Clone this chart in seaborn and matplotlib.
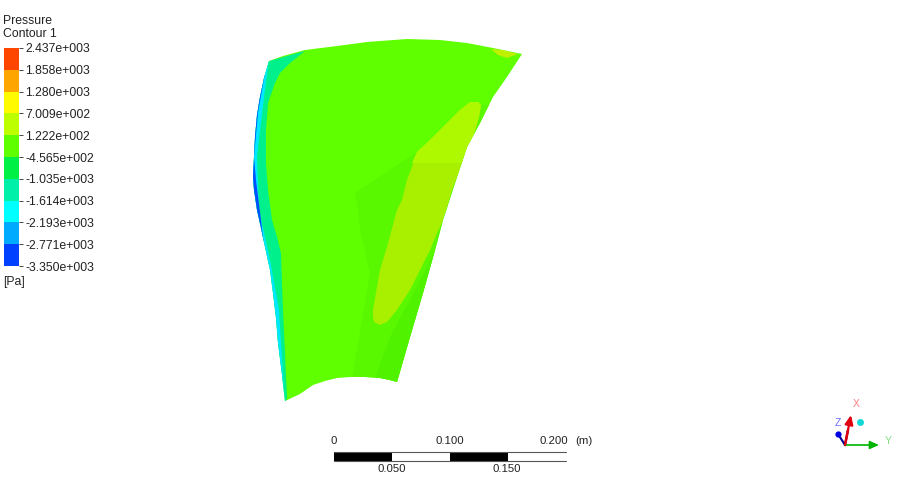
import numpy as np
import seaborn as sns
import matplotlib.pyplot as plt
from matplotlib.colors import ListedColormap

# legend levels, top to bottom
level_labels = ['2.437e+003', '1.858e+003', '1.280e+003', '7.009e+002', '1.222e+002',
                '-4.565e+002', '-1.035e+003', '-1.614e+003', '-2.193e+003', '-2.771e+003', '-3.350e+003']
band_colors = ['#ff4600', '#ffa500', '#fffa00', '#beff00', '#5fff00',
               '#00f046', '#00f0aa', '#00ffff', '#00aaff', '#0040ff']

# contour outlines
blade_x = [269, 283, 305, 337, 367, 407, 440, 467, 493, 522, 507, 493, 480, 467, 457, 443, 437, 423, 410, 397,
           390, 380, 365, 350, 337, 325, 313, 300, 285, 282, 278, 276, 273, 270, 265, 261, 257, 254, 253, 254, 255, 257, 260, 264]
blade_y = [61, 56, 50, 46, 42, 39, 40, 43, 48, 54, 77, 97, 123, 147, 177, 220, 243, 293, 337, 382,
           380, 378, 377, 377, 378, 381, 385, 394, 401, 375, 343, 318, 293, 270, 247, 228, 210, 190, 177, 157, 137, 115, 97, 78]
teal_x = [269, 305, 290, 280, 275, 268, 266, 266, 268, 272, 277, 281, 282, 283, 285, 287, 285, 250, 250]
teal_y = [61, 51, 63, 73, 83, 103, 130, 163, 190, 220, 237, 253, 283, 310, 353, 397, 405, 405, 55]
cyan_x = [269, 268, 262, 257, 259, 270, 279, 282, 285, 250, 250]
cyan_y = [61, 67, 113, 157, 210, 260, 310, 360, 405, 405, 55]
blue_x = [268, 266, 258, 254, 256, 260, 264, 248, 248]
blue_y = [60, 67, 113, 157, 180, 212, 245, 245, 60]
dark_x = [355, 417, 470, 481, 530, 530, 398, 352, 370, 360, 358]
dark_y = [193, 152, 115, 105, 105, 400, 400, 378, 273, 230, 210]
darker_x = [375, 390, 410, 440, 530, 530, 398]
darker_y = [378, 337, 300, 240, 130, 400, 400]
patch_x = [481, 479, 473, 463, 453, 443, 437, 430, 420, 410, 397, 387, 380, 374, 373, 373, 380, 387, 397, 402, 407, 412, 417, 432, 447, 460, 470, 478]
patch_y = [105, 117, 137, 163, 187, 220, 233, 250, 270, 290, 310, 322, 325, 322, 317, 310, 270, 247, 210, 200, 180, 167, 152, 138, 123, 110, 102, 102]
upper_x = [481, 479, 473, 463, 412, 417, 432, 447, 460, 470, 478]
upper_y = [105, 117, 137, 163, 163, 152, 138, 123, 110, 102, 102]
tip_x = [491, 503, 518, 507, 498]
tip_y = [49, 50, 54, 58, 55]

# scale bar, metres
bar_starts = [0.0, 0.05, 0.10, 0.15]
bar_top_labels = ['0', '0.100', '0.200']
bar_bottom_labels = ['0.050', '0.150']

sns.set_theme(style="white")
plt.rcParams['font.family'] = ['Liberation Sans', 'DejaVu Sans']
text_color = '#222222'

fig = plt.figure(figsize=(9, 4.91), dpi=100)
ax = fig.add_axes([0, 0, 1, 1])
ax.set_xlim(0, 900)
ax.set_ylim(491, 0)
ax.axis('off')

blade = ax.fill(blade_x, blade_y, color='#5fff00', lw=0)[0]
layers = [(dark_x, dark_y, '#5af800'), (darker_x, darker_y, '#50f200'),
          (teal_x, teal_y, '#00f08c'), (cyan_x, cyan_y, '#00e8ff'), (blue_x, blue_y, '#0050ff'),
          (patch_x, patch_y, '#a8f000'), (upper_x, upper_y, '#aef800'), (tip_x, tip_y, '#bef000')]
for xs, ys, col in layers:
    poly = ax.fill(xs, ys, color=col, lw=0)[0]
    poly.set_clip_path(blade.get_path(), blade.get_transform())

# legend
ax.text(3, 21, 'Pressure', fontsize=8.8, color=text_color, va='center')
ax.text(3, 34, 'Contour 1', fontsize=8.8, color=text_color, va='center')
ax.text(3, 282, '[Pa]', fontsize=8.8, color=text_color, va='center')

leg = fig.add_axes([4 / 900, 1 - 266 / 491, 15 / 900, 218 / 491])
levels = np.arange(len(band_colors))[::-1].reshape(-1, 1)
sns.heatmap(levels, cmap=ListedColormap(band_colors[::-1]), cbar=False, ax=leg,
            xticklabels=False, linewidths=0)
leg.yaxis.tick_right()
leg.set_yticks(np.arange(len(level_labels)))
leg.set_yticklabels(level_labels, rotation=0, fontsize=8.8, color=text_color)
leg.tick_params(axis='y', length=3, width=0.7, color='#444444', pad=1.5, right=True, left=False)
leg.tick_params(axis='x', bottom=False)

# scale bar
sb = fig.add_axes([334 / 900, 1 - 461 / 491, 232 / 900, 9 / 491])
sb.set_xlim(0, 0.2)
sb.set_ylim(0, 1)
sb.axis('off')
for i, start in enumerate(bar_starts):
    sb.bar(start, 1, width=0.05, align='edge', color='black' if i % 2 == 0 else 'white', lw=0)
sb.plot([0, 0.2], [1, 1], color='#555555', lw=0.8, clip_on=False)
sb.plot([0, 0.2], [0, 0], color='#555555', lw=0.8, clip_on=False)

ax.text(334, 441, bar_top_labels[0], fontsize=8.2, color=text_color, ha='center', va='center')
ax.text(450, 441, bar_top_labels[1], fontsize=8.2, color=text_color, ha='center', va='center')
ax.text(568, 441, bar_top_labels[2], fontsize=8.2, color=text_color, ha='right', va='center')
ax.text(575, 441, '(m)', fontsize=8.2, color=text_color, ha='left', va='center')
ax.text(392, 469, bar_bottom_labels[0], fontsize=8.2, color=text_color, ha='center', va='center')
ax.text(507, 469, bar_bottom_labels[1], fontsize=8.2, color=text_color, ha='center', va='center')

# axis triad
ax.annotate('', xy=(879, 445), xytext=(845, 445),
            arrowprops=dict(arrowstyle='-|>,head_length=0.45,head_width=0.2', color='#00b400', lw=1.2, shrinkA=0, shrinkB=0))
ax.annotate('', xy=(851, 415), xytext=(845, 445),
            arrowprops=dict(arrowstyle='-|>,head_length=0.45,head_width=0.2', color='#e00010', lw=1.6, shrinkA=0, shrinkB=0))
ax.plot([845, 848], [445, 430], color='#8c0010', lw=1.8)
ax.plot([845, 838], [445, 434], color='#000090', lw=1.5)
ax.plot([838], [434], 'o', color='#0000e0', ms=4.5, mew=0)
ax.plot([860], [422], 'o', color='#10d8d8', ms=5, mew=0)
ax.text(856, 404, 'X', fontsize=7.5, color='#ff8080', ha='center', va='center')
ax.text(888, 441, 'Y', fontsize=7.5, color='#80e080', ha='center', va='center')
ax.text(838, 423, 'Z', fontsize=7.5, color='#7070ff', ha='center', va='center')

fig.savefig('out.png', dpi=100)
plt.close(fig)
